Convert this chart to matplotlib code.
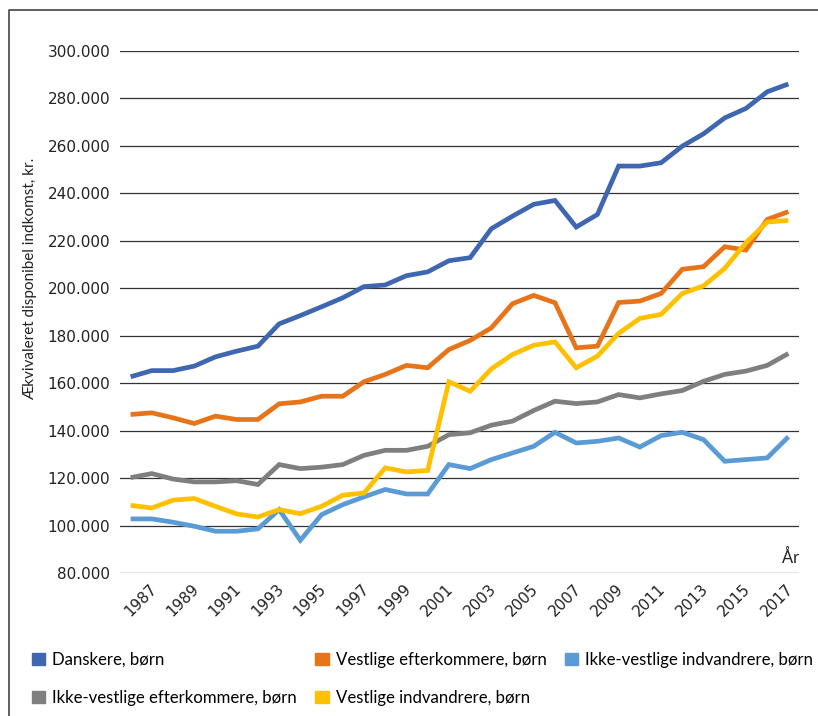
import numpy as np
import matplotlib.pyplot as plt
from matplotlib.patches import Patch
from matplotlib.lines import Line2D
import matplotlib.transforms as mtransforms

years = list(range(1986, 2018))

danskere = [162700, 165300, 165300, 167200, 171100, 173500, 175600, 185000,
            188500, 192200, 196000, 200700, 201400, 205300, 206900, 211600,
            212900, 225100, 230400, 235400, 237000, 225800, 231100, 251500,
            251500, 252900, 259900, 265100, 271800, 275800, 282800, 286100]

vest_efterk = [146800, 147500, 145400, 143000, 146100, 144700, 144700, 151300,
               152100, 154500, 154500, 160600, 163700, 167500, 166500, 174200,
               178000, 183300, 193500, 197000, 193900, 174900, 175600, 194000,
               194600, 197800, 208000, 209100, 217500, 216100, 229000, 232300]

ikke_vest_indv = [102800, 102800, 101400, 99700, 97600, 97600, 98600, 106700,
                  93800, 104600, 108800, 112100, 115200, 113300, 113300, 125700,
                  124000, 127800, 130600, 133400, 139300, 134800, 135500, 136900,
                  133100, 137900, 139300, 136200, 127100, 127800, 128500, 137400]

ikke_vest_efterk = [120200, 121900, 119600, 118400, 118400, 118900, 117300, 125700,
                    124000, 124600, 125700, 129600, 131700, 131700, 133400, 138300,
                    139100, 142300, 144000, 148500, 152400, 151400, 152100, 155200,
                    153800, 155500, 156900, 160800, 163700, 165100, 167500, 172500]

vest_indv = [108500, 107400, 110700, 111400, 108100, 104900, 103600, 106700,
             105000, 108100, 112800, 113700, 124300, 122600, 123200, 160600,
             156600, 166000, 172100, 176000, 177400, 166500, 171400, 181000,
             187300, 189000, 197800, 201000, 208400, 219200, 227900, 228600]

labels = ['Danskere, børn', 'Vestlige efterkommere, børn',
          'Ikke-vestlige indvandrere, børn', 'Ikke-vestlige efterkommere, børn',
          'Vestlige indvandrere, børn']
colors = ['#3F67B1', '#E8741A', '#5B9BD5', '#7F7F7F', '#FFC000']
series = [danskere, vest_efterk, ikke_vest_indv, ikke_vest_efterk, vest_indv]

yticks = list(range(80000, 300001, 20000))
ytick_labels = [f'{v // 1000}.000' for v in yticks]
xtick_years = list(range(1987, 2018, 2))

W, H = 818, 716
fig = plt.figure(figsize=(W / 100, H / 100), dpi=100)
ax_h = 573 - 51
ax_w = 799 - 120
ax = fig.add_axes([120 / W, 1 - 573 / H, ax_w / W, ax_h / H])

x = np.arange(len(years))
for s, c in zip(series, colors):
    ax.plot(x, s, color=c, lw=3.4, solid_joinstyle='miter', solid_capstyle='butt')

ax.set_xlim(-0.5, len(years) - 0.5)
ax.set_ylim(80000, 300000)
ax.set_yticks(yticks)
ax.set_yticklabels(ytick_labels, fontsize=11, color='#222222')
ax.grid(axis='y', color='#333333', lw=0.9)
ax.set_axisbelow(True)
for sp in ax.spines.values():
    sp.set_visible(False)
ax.tick_params(axis='y', length=0, pad=7)

xt = [years.index(y) for y in xtick_years]
ax.set_xticks(xt)
ax.set_xticklabels([str(y) for y in xtick_years], rotation=45, ha='right',
                   va='top', rotation_mode='anchor', fontsize=11, color='#222222')
ax.tick_params(axis='x', length=0, pad=6)
shift = mtransforms.ScaledTranslation(-3 / 100, 0, fig.dpi_scale_trans)
for lab in ax.get_xticklabels():
    lab.set_transform(lab.get_transform() + shift)

ax.set_ylabel('Ækvivaleret disponibel indkomst, kr.', family='Lato', fontsize=11,
              color='#222222')
ax.yaxis.set_label_coords(-(120 - 37) / ax_w, (573 - 279) / ax_h)
ax.text(1.0, 16 / ax_h, 'År', transform=ax.transAxes, ha='right', va='center',
        family='Lato', fontsize=12, color='#222222')

handles = [Patch(color=c) for c in colors]
order = [0, 3, 1, 4, 2]
fig.legend([handles[i] for i in order], [labels[i] for i in order],
           loc='upper left', bbox_to_anchor=(32 / W, 1 - 652 / H), ncol=3,
           frameon=False, prop={'family': 'Lato', 'size': 12.1},
           handlelength=0.78, handleheight=0.78, handletextpad=0.42,
           columnspacing=1.1, labelspacing=1.3, borderpad=0, borderaxespad=0)

# figure frame (top and left edges)
fig.add_artist(Line2D([9 / W, 9 / W, 1], [0, 1 - 10 / H, 1 - 10 / H],
                      transform=fig.transFigure, color='#444444', lw=1.2))

fig.savefig('out.png', dpi=100)
